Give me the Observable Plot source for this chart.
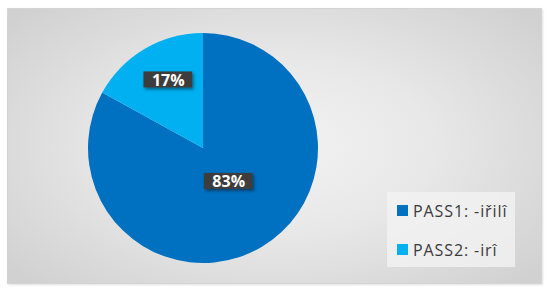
<!DOCTYPE html>
<html><head><meta charset="utf-8">
<script src="https://cdn.jsdelivr.net/npm/d3@7"></script>
<script src="https://cdn.jsdelivr.net/npm/@observablehq/plot@0.6"></script>
<style>
html,body{margin:0;padding:0;background:#fff;width:550px;height:294px;overflow:hidden;}
#panel{position:absolute;left:7px;top:8px;width:533px;height:274px;border:1px solid #d4d4d4;
  background:radial-gradient(ellipse 65% 70% at 50% 50%, #f3f3f3 0%, #e8e8e8 45%, #d1d1d1 100%);
  box-shadow:1px 1px 2px rgba(0,0,0,0.12);}
#chart{position:absolute;left:0;top:0;}
#legend{position:absolute;left:387px;top:192px;width:128px;height:75px;background:rgba(242,242,242,0.8);
  font-family:"Open Sans",sans-serif;font-size:16px;color:#3a3a3a;letter-spacing:0.9px;}
.item{position:absolute;left:10px;height:20px;display:flex;align-items:center;white-space:nowrap;}
.sw{width:11px;height:11px;margin-right:5px;flex:none;}
</style>
</head><body>
<div id="panel"></div>
<div id="chart"></div>
<div id="legend"></div>
<script>
const categories = ["PASS1: -iřilî", "PASS2: -irî"];
const values = [83, 17];
const labels = ["83%", "17%"];
const colors = ["#0070C0", "#00B0F0"];

const pie = d3.pie().sort(null).value(d => d.value);
const arcs = pie(categories.map((c, i) => ({category: c, value: values[i], label: labels[i], color: colors[i]})));
const labelData = arcs.map(a => {
  const mid = (a.startAngle + a.endAngle) / 2 + (a.data.value < 50 ? 0.06 : -0.12);
  const f = a.data.value < 50 ? 0.67 : 0.36;
  return {label: a.data.label, x: f * Math.sin(mid), y: f * Math.cos(mid)};
});

const ctx = document.createElement("canvas").getContext("2d");
ctx.font = "bold 16px 'Open Sans'";

function pieMark(index, scales) {
  const cx = scales.x(0), cy = scales.y(0), r = scales.x(1) - cx;
  const g = d3.create("svg:g");
  const defs = g.append("defs");
  const f = defs.append("filter").attr("id", "sh").attr("x", "-20%").attr("y", "-20%").attr("width", "150%").attr("height", "170%");
  f.append("feDropShadow").attr("dx", 1.5).attr("dy", 2).attr("stdDeviation", 1.5).attr("flood-color", "#000").attr("flood-opacity", 0.45);
  const arc = d3.arc().innerRadius(0).outerRadius(r);
  g.append("g").attr("transform", `translate(${cx},${cy})`)
    .selectAll("path").data(arcs).join("path")
    .attr("d", arc).attr("fill", d => d.data.color);
  g.append("g").selectAll("rect").data(labelData).join("rect")
    .attr("x", d => scales.x(d.x) - (ctx.measureText(d.label).width + 16) / 2)
    .attr("y", d => scales.y(d.y) - 8)
    .attr("width", d => ctx.measureText(d.label).width + 16)
    .attr("height", 16)
    .attr("fill", "#3d3d3d")
    .attr("filter", "url(#sh)");
  return g.node();
}

const chart = Plot.plot({
  width: 550, height: 294,
  margin: 0,
  style: {background: "transparent", overflow: "visible"},
  x: {domain: [-1, 1], range: [88, 318], axis: null},
  y: {domain: [-1, 1], range: [263, 33], axis: null},
  marks: [
    pieMark,
    Plot.text(labelData, {x: "x", y: "y", text: "label", fill: "white", fontSize: 16, fontWeight: "bold", fontFamily: "Open Sans", dy: 0.5})
  ]
});
document.getElementById("chart").appendChild(chart);

const legend = d3.select("#legend");
categories.forEach((c, i) => {
  const it = legend.append("div").attr("class", "item").style("top", (8.5 + i * 39) + "px");
  it.append("div").attr("class", "sw").style("background", colors[i]);
  it.append("span").text(c);
});
</script>
</body></html>
